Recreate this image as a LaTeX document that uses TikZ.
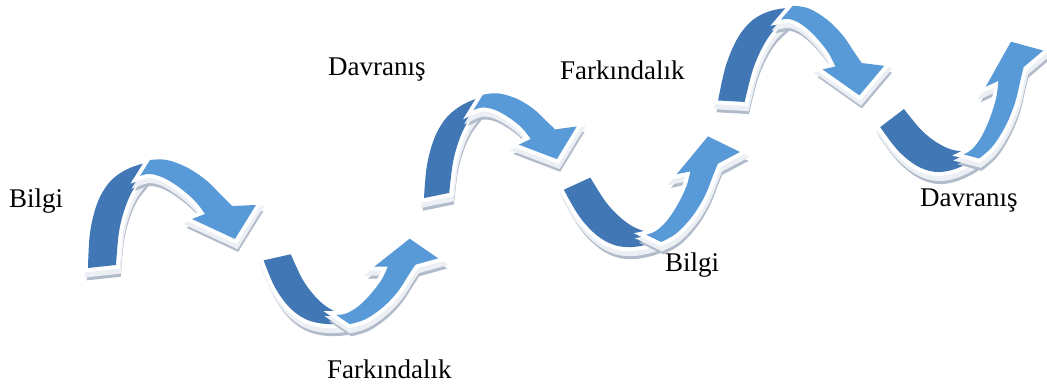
\documentclass[tikz,border=0pt]{standalone}
\usepackage{fontspec}
\setmainfont{Liberation Serif}
\definecolor{legblue}{RGB}{64,119,180}
\definecolor{headblue}{RGB}{88,153,215}
\definecolor{shadowc}{RGB}{178,187,202}
\definecolor{sidec}{RGB}{236,239,244}

% one curved arrow in its own frame: a dark leg and a lighter part with the head
\newcommand\legpath{plot[smooth,tension=0.6] coordinates {(88,268) (90,233) (97,204) (108,184) (122,172) (138,165) (152,162)} -- plot[smooth,tension=0.6] coordinates {(143,177) (133,190) (125,208) (119,232) (116,265)} -- cycle}
\newcommand\headpath{(140,176) -- plot[smooth,tension=0.6] coordinates {(150,160) (167,160) (188,168) (207,181) (222,196) (232,206)} -- (256,205) -- (235,239) -- (192,219) -- plot[smooth,tension=0.6] coordinates {(205,214) (195,201) (180,188) (164,178) (150,174) (140,176)} -- cycle}

% #1: transformation that places the arrow; each part gets a shadow,
% a white bevel below it, a white rim and its blue face
\newcommand\arrowpart[3]{%
  \begin{scope}[shift={(2,9)}]\begin{scope}[cm={#1}]
    \filldraw[shadowc, line width=6] #2;
  \end{scope}\end{scope}
  \begin{scope}[shift={(1,5)}]\begin{scope}[cm={#1}]
    \filldraw[sidec, line width=8] #2;
  \end{scope}\end{scope}
  \begin{scope}[cm={#1}]
    \filldraw[white, line width=8] #2;
    \fill[#3] #2;
  \end{scope}}
\newcommand\swirl[1]{%
  \arrowpart{#1}{\legpath}{legblue}%
  \arrowpart{#1}{\headpath}{headblue}}

\begin{document}
\begin{tikzpicture}[x=1pt,y=-1pt,
  label/.style={anchor=base west, inner sep=0pt, font=\fontsize{27}{32}\selectfont}]
\fill[white] (0,0) rectangle (1047,387);
\useasboundingbox (0,0) rectangle (1047,387);

\swirl{1,0,0,1,(0,0)}
\swirl{0.9430,0.2974,0.2558,-0.7616,(249.2,490.6)}
\swirl{0.8983,0.0861,0.0293,0.9068,(352.8,-37.4)}
\swirl{0.9053,0.5170,0.3814,-0.7806,(586.4,444.4)}
\swirl{0.9297,-0.1562,0.1570,0.9665,(678.4,-172.3)}
\swirl{0.7994,0.7197,0.4561,-0.7040,(932.1,379.1)}

\node[label] (b1) at (9,208) {Bilgi};
\node[label] (d1) at (328,76) {Davranış};
\node[label] (f1) at (327,378) {Farkındalık};
\node[label] (f2) at (560,80) {Farkındalık};
\node[label] (b2) at (665,272) {Bilgi};
\node[label] (d2) at (920,207) {Davranış};
\end{tikzpicture}
\end{document}
